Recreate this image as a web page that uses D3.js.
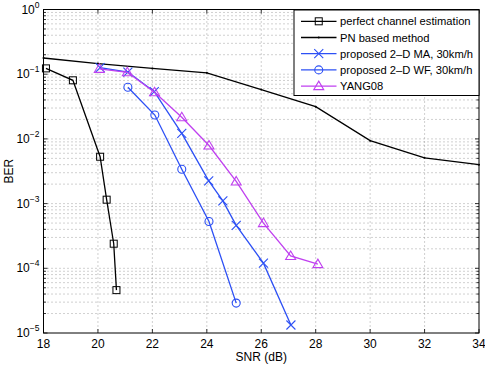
<!DOCTYPE html>
<html>
<head>
<meta charset="utf-8">
<script src="https://cdn.jsdelivr.net/npm/d3@7"></script>
<style>
  body { margin: 0; background: #fff; }
  text { font-family: "Liberation Sans", Arial, Helvetica, sans-serif; }
</style>
</head>
<body>
<div id="chart"></div>
<script>
const W = 485, H = 365;
const margin = { left: 43.5, right: 6, top: 9.5, bottom: 32 };

// data
const perfectSnr = [18.09, 19.08, 20.08, 20.32, 20.58, 20.68];
const perfectBer = [0.123, 0.0805, 0.0053, 0.00115, 0.00024, 0.000046];

const pnSnr = [18, 20, 22, 24, 26, 28, 30, 32, 34];
const pnBer = [0.178, 0.146, 0.123, 0.105, 0.058, 0.0315, 0.0094, 0.0051, 0.004];

const maSnr = [20.08, 21.1, 22.07, 23.08, 24.07, 24.59, 25.08, 26.08, 27.09];
const maBer = [0.126, 0.108, 0.0536, 0.0122, 0.00225, 0.0011, 0.00046, 0.00012, 0.0000133];

const wfSnr = [21.1, 22.09, 23.08, 24.08, 25.08];
const wfBer = [0.063, 0.0234, 0.0034, 0.00053, 0.000029];

const yangSnr = [20.05, 21.08, 22.08, 23.08, 24.08, 25.08, 26.08, 27.08, 28.08];
const yangBer = [0.121, 0.107, 0.0525, 0.0216, 0.0079, 0.0022, 0.0005, 0.000155, 0.000116];

const xTicks = [18, 20, 22, 24, 26, 28, 30, 32, 34];
const yExps = [0, -1, -2, -3, -4, -5];

const series = [
  { name: "perfect channel estimation", x: perfectSnr, y: perfectBer, color: "#000000", marker: "square" },
  { name: "PN based method", x: pnSnr, y: pnBer, color: "#000000", marker: "dot" },
  { name: "proposed 2\u2013D MA, 30km/h", x: maSnr, y: maBer, color: "#2d50f5", marker: "x" },
  { name: "proposed 2\u2013D WF, 30km/h", x: wfSnr, y: wfBer, color: "#2d50f5", marker: "circle" },
  { name: "YANG08", x: yangSnr, y: yangBer, color: "#c040f0", marker: "triangle" }
];

const svg = d3.select("#chart").append("svg")
  .attr("width", W).attr("height", H);

const x = d3.scaleLinear().domain([18, 34]).range([margin.left, W - margin.right]);
const y = d3.scaleLog().domain([1e-5, 1]).range([H - margin.bottom, margin.top]);

const [px0, px1] = x.range();
const [py1, py0] = y.range();

// grid
const grid = svg.append("g").attr("stroke", "#8a8a8a").attr("stroke-width", 0.8)
  .attr("stroke-dasharray", "1,3");
xTicks.slice(1, -1).forEach(t => {
  grid.append("line").attr("x1", x(t)).attr("x2", x(t)).attr("y1", py0).attr("y2", py1);
});
const minorY = [];
for (let e = -5; e < 0; e++) {
  for (let m = 1; m < 10; m++) minorY.push(m * Math.pow(10, e));
}
minorY.push(1);
minorY.filter(v => v > 1e-5 && v < 1).forEach(v => {
  grid.append("line").attr("x1", px0).attr("x2", px1).attr("y1", y(v)).attr("y2", y(v));
});

// box
svg.append("rect").attr("x", px0).attr("y", py0)
  .attr("width", px1 - px0).attr("height", py1 - py0)
  .attr("fill", "none").attr("stroke", "#000").attr("stroke-width", 1);

// ticks (inside, all four sides)
const tk = svg.append("g").attr("stroke", "#000").attr("stroke-width", 0.8);
xTicks.forEach(t => {
  tk.append("line").attr("x1", x(t)).attr("x2", x(t)).attr("y1", py1).attr("y2", py1 - 4);
  tk.append("line").attr("x1", x(t)).attr("x2", x(t)).attr("y1", py0).attr("y2", py0 + 4);
});
minorY.forEach(v => {
  const major = Math.abs(Math.log10(v) - Math.round(Math.log10(v))) < 1e-9;
  const len = major ? 4 : 2.5;
  tk.append("line").attr("x1", px0).attr("x2", px0 + len).attr("y1", y(v)).attr("y2", y(v));
  tk.append("line").attr("x1", px1).attr("x2", px1 - len).attr("y1", y(v)).attr("y2", y(v));
});

// tick labels
svg.append("g").selectAll("text").data(xTicks).join("text")
  .attr("x", d => x(d)).attr("y", py1 + 14.5)
  .attr("text-anchor", "middle").attr("font-size", 12).text(d => d);

const yl = svg.append("g");
yExps.forEach(e => {
  const t = yl.append("text").attr("x", px0 - 4).attr("y", y(Math.pow(10, e)) + 4)
    .attr("text-anchor", "end").attr("font-size", 12);
  t.append("tspan").text("10");
  t.append("tspan").attr("dy", -6).attr("font-size", 8.5).text(e === 0 ? "0" : "\u2212" + (-e));
});

// axis titles
svg.append("text").attr("x", (px0 + px1) / 2).attr("y", py1 + 28)
  .attr("text-anchor", "middle").attr("font-size", 12).text("SNR (dB)");
svg.append("text").attr("transform", `translate(13,${(py0 + py1) / 2}) rotate(-90)`)
  .attr("text-anchor", "middle").attr("font-size", 12).text("BER");

// markers
function drawMarker(g, type, cx, cy, color) {
  if (type === "square") {
    g.append("rect").attr("x", cx - 3.5).attr("y", cy - 3.5).attr("width", 7).attr("height", 7)
      .attr("fill", "none").attr("stroke", color).attr("stroke-width", 1);
  } else if (type === "dot") {
    g.append("circle").attr("cx", cx).attr("cy", cy).attr("r", 1).attr("fill", color);
  } else if (type === "x") {
    g.append("path").attr("d", `M${cx - 4.5},${cy - 4.5}L${cx + 4.5},${cy + 4.5}M${cx - 4.5},${cy + 4.5}L${cx + 4.5},${cy - 4.5}`)
      .attr("stroke", color).attr("stroke-width", 1.1).attr("fill", "none");
  } else if (type === "circle") {
    g.append("circle").attr("cx", cx).attr("cy", cy).attr("r", 4)
      .attr("fill", "none").attr("stroke", color).attr("stroke-width", 1.1);
  } else if (type === "triangle") {
    g.append("path").attr("d", `M${cx},${cy - 5}L${cx + 5},${cy + 3.5}L${cx - 5},${cy + 3.5}Z`)
      .attr("fill", "none").attr("stroke", color).attr("stroke-width", 1.1);
  }
}

const line = d3.line().x(d => x(d[0])).y(d => y(d[1]));
const plot = svg.append("g");
series.forEach(s => {
  const pts = s.x.map((v, i) => [v, s.y[i]]);
  plot.append("path").datum(pts).attr("d", line)
    .attr("fill", "none").attr("stroke", s.color).attr("stroke-width", 1.3);
  pts.forEach(p => drawMarker(plot, s.marker, x(p[0]), y(p[1]), s.color));
});

// legend
const lg = svg.append("g");
const lx0 = 294, ly0 = 10, lw = px1 - lx0, lh = 85.5;
lg.append("rect").attr("x", lx0).attr("y", ly0).attr("width", lw).attr("height", lh)
  .attr("fill", "#fff").attr("stroke", "#000").attr("stroke-width", 1);
series.forEach((s, i) => {
  const ry = 21.3 + i * 16.2;
  lg.append("line").attr("x1", 301).attr("x2", 336.5).attr("y1", ry).attr("y2", ry)
    .attr("stroke", s.color).attr("stroke-width", 1.3);
  drawMarker(lg, s.marker, 318.75, ry, s.color);
  lg.append("text").attr("x", 340).attr("y", ry + 4).attr("font-size", 11.2).text(s.name);
});
</script>
</body>
</html>
